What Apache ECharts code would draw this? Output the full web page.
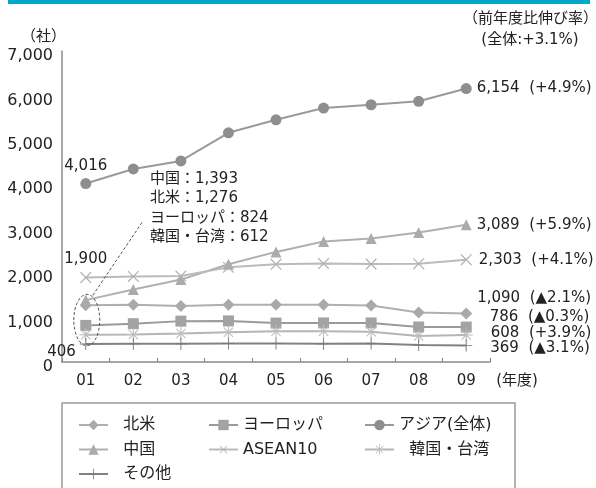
<!DOCTYPE html>
<html>
<head>
<meta charset="utf-8">
<script src="https://cdn.jsdelivr.net/npm/echarts@6/dist/echarts.min.js"></script>
<style>
  html, body { margin: 0; padding: 0; background: #fff; }
  #chart { width: 596px; height: 488px; }
</style>
</head>
<body>
<div id="chart"></div>
<script>
// Fiscal years (年度) on the category axis
const years = ['01', '02', '03', '04', '05', '06', '07', '08', '09'];

// Number of companies per region (社)
const hokubei = [1276, 1290, 1260, 1290, 1290, 1290, 1270, 1113, 1090];
const europe  = [824, 862, 920, 925, 876, 880, 880, 788, 786];
const asia    = [4016, 4345, 4526, 5158, 5451, 5715, 5790, 5867, 6154];
const china   = [1393, 1630, 1855, 2200, 2478, 2710, 2780, 2917, 3089];
const asean   = [1900, 1925, 1935, 2130, 2200, 2215, 2205, 2212, 2303];
const korea   = [612, 618, 640, 670, 690, 690, 680, 585, 608];
const other   = [406, 410, 412, 418, 415, 410, 415, 381, 369];

// Year-on-year growth of the latest year (▲ = decrease)
const growthAsia = '+4.9%';
const growthChina = '+5.9%';
const growthAsean = '+4.1%';
const growthHokubei = '▲2.1%';
const growthEurope = '▲0.3%';
const growthKorea = '+3.9%';
const growthOther = '▲3.1%';
const growthTotal = '+3.1%';

// Y axis ticks
const yMin = 0, yMax = 7000, yStep = 1000;

const FONT = '"DejaVu Sans", "Noto Sans CJK JP", sans-serif';
const CJK = '"Noto Sans CJK JP", "DejaVu Sans", sans-serif';
const TXT = '#222';
const fmt = v => v.toLocaleString('en-US');

// Marker shapes drawn as filled polygons
const PLUS = 'path://M46,0H54V46H100V54H54V100H46V54H0V46H46Z';
const STAR = 'path://M46,0H54V46H100V54H54V100H46V54H0V46H46Z' +
  'M82.5,11.8L88.2,17.5L55.7,50L88.2,82.5L82.5,88.2L50,55.7L17.5,88.2L11.8,82.5L44.3,50L11.8,17.5L17.5,11.8L50,44.3Z';

function endLabel(growth, offset) {
  return {
    show: true,
    position: 'right',
    distance: 5,
    offset: offset || [0, 0],
    fontFamily: FONT,
    fontSize: 15,
    color: TXT,
    formatter: p => fmt(p.value) + '  (' + growth + ')'
  };
}

function buildData(values, firstLabel, lastLabel) {
  return values.map((v, i) => {
    if (i === 0 && firstLabel) return { value: v, label: firstLabel };
    if (i === values.length - 1 && lastLabel) return { value: v, label: lastLabel };
    return v;
  });
}

function line(name, values, symbol, size, color, lineColor, extra) {
  return Object.assign({
    name: name,
    type: 'line',
    data: values,
    symbol: symbol,
    symbolSize: size,
    showAllSymbol: true,
    animation: false,
    z: 3,
    lineStyle: { color: lineColor, width: 2 },
    itemStyle: { color: color },
    emphasis: { disabled: true }
  }, extra || {});
}

function firstTop(distance) {
  return {
    show: true, position: 'top', distance: distance,
    fontFamily: FONT, fontSize: 15, color: TXT,
    formatter: p => fmt(p.value)
  };
}

const series = [
  line('北米', buildData(hokubei, null, endLabel(growthHokubei, [0, -15])),
       'diamond', 12, '#a9a9a9', '#b0b0b0'),
  line('ヨーロッパ', buildData(europe, null, endLabel(growthEurope, [13, -10])),
       'rect', 11, '#a3a3a3', '#9a9a9a'),
  line('アジア(全体)', buildData(asia, firstTop(4), endLabel(growthAsia)),
       'circle', 11, '#8e8e8e', '#9a9a9a'),
  line('中国', buildData(china, null, endLabel(growthChina)),
       'triangle', 11, '#ababab', '#b0b0b0'),
  line('ASEAN10', buildData(asean, firstTop(0), endLabel(growthAsean, [-3, 0])),
       PLUS, 15, '#b0b0b0', '#bbbbbb', { symbolRotate: 45 }),
  line('韓国・台湾', buildData(korea, null, endLabel(growthKorea, [13, -2])),
       STAR, 13, '#bdbdbd', '#b5b5b5'),
  line('その他', buildData(other, {
         show: true, position: 'left', distance: 4, offset: [0, 8],
         fontFamily: FONT, fontSize: 15, color: TXT,
         formatter: p => fmt(p.value)
       }, endLabel(growthOther, [13, 3])),
       PLUS, 12, '#7a7a7a', '#828282')
];

const legendBase = {
  orient: 'vertical',
  itemWidth: 29,
  itemHeight: 13,
  itemGap: 8.5,
  padding: 0,
  selectedMode: false,
  textStyle: { fontFamily: FONT, fontSize: 16, lineHeight: 16, color: TXT }
};

const chart = echarts.init(document.getElementById('chart'), null, { renderer: 'canvas' });

chart.setOption({
  backgroundColor: '#fff',
  animation: false,
  grid: { left: 62, right: 106, top: 51, bottom: 126, containLabel: false },
  xAxis: {
    type: 'category',
    data: years,
    boundaryGap: true,
    axisLine: { lineStyle: { color: '#8a8a8a', width: 1.5 } },
    axisTick: { show: true, inside: true, length: 4, lineStyle: { color: '#8a8a8a', width: 1.2 } },
    axisLabel: { margin: 12, fontFamily: FONT, fontSize: 15, color: TXT },
    splitLine: { show: false }
  },
  yAxis: {
    type: 'value',
    min: yMin, max: yMax, interval: yStep,
    name: '（社）',
    nameLocation: 'end',
    nameGap: 8,
    nameTextStyle: { fontFamily: CJK, fontSize: 15, color: TXT, align: 'right', padding: [0, -4, 0, 0] },
    axisLine: { show: true, lineStyle: { color: '#8a8a8a', width: 1.5 } },
    axisTick: { show: false },
    axisLabel: { margin: 9, fontFamily: FONT, fontSize: 16, color: TXT,
                 verticalAlign: 'top', lineHeight: 10, formatter: v => fmt(v) },
    splitLine: { show: false }
  },
  legend: [
    Object.assign({}, legendBase, { left: 78, top: 417, data: ['北米', '中国', 'その他'],
      formatter: n => '  ' + n }),
    Object.assign({}, legendBase, { left: 208, top: 417, data: ['ヨーロッパ', 'ASEAN10'] }),
    Object.assign({}, legendBase, { left: 364, top: 417, data: ['アジア(全体)', '韓国・台湾'],
      formatter: n => n === '韓国・台湾' ? '  ' + n : n })
  ],
  series: series
});

// Annotations: header band, legend frame, notes and the 01 callout
const base = chart.convertToPixel({ gridIndex: 0 }, ['01', 0]);
const last = chart.convertToPixel({ gridIndex: 0 }, ['09', 0]);
const callTop = chart.convertToPixel({ gridIndex: 0 }, ['01', china[0] + 130])[1];
const callBottom = chart.convertToPixel({ gridIndex: 0 }, ['01', other[0] - 40])[1];
const cx = base[0] + 1;
const cy = (callTop + callBottom) / 2;
const ry = (callBottom - callTop) / 2;

const noteLines = [
  '中国：' + fmt(china[0]),
  '北米：' + fmt(hokubei[0]),
  'ヨーロッパ：' + fmt(europe[0]),
  '韓国・台湾：' + fmt(korea[0])
];

chart.setOption({
  graphic: [
    { type: 'rect', left: 8, top: 0, shape: { width: 582, height: 4 },
      style: { fill: '#00a9cc' }, silent: true },
    { type: 'rect', shape: { x: 62, y: 403, width: 453, height: 100 },
      style: { fill: 'none', stroke: '#9a9a9a', lineWidth: 1.5 }, silent: true, z: 0 },
    { type: 'text', x: 598, y: 17, silent: true,
      style: { text: '（前年度比伸び率）', font: '15px ' + CJK, fill: TXT,
               textAlign: 'right', textVerticalAlign: 'middle' } },
    { type: 'text', x: 530, y: 40, silent: true,
      style: { text: '(全体:' + growthTotal + ')', font: '15px ' + FONT, fill: TXT,
               textAlign: 'center', textVerticalAlign: 'middle' } },
    { type: 'text', x: last[0] + 30, y: base[1] + 19.5, silent: true,
      style: { text: '(年度)', font: '15px ' + FONT, fill: TXT,
               textAlign: 'left', textVerticalAlign: 'middle' } },
    { type: 'text', x: 150, y: 169, silent: true,
      style: { text: noteLines.join('\n'), font: '15px ' + FONT, fill: TXT,
               lineHeight: 19.5, textAlign: 'left', textVerticalAlign: 'top' } },
    { type: 'ellipse', silent: true, z: 10,
      shape: { cx: cx, cy: cy, rx: 13, ry: ry },
      style: { fill: 'none', stroke: '#555', lineWidth: 1, lineDash: [3, 2] } },
    { type: 'line', silent: true, z: 10,
      shape: { x1: cx + 6, y1: cy - ry + 1, x2: 143, y2: 221 },
      style: { stroke: '#555', lineWidth: 1, lineDash: [3, 2] } }
  ]
});
</script>
</body>
</html>
